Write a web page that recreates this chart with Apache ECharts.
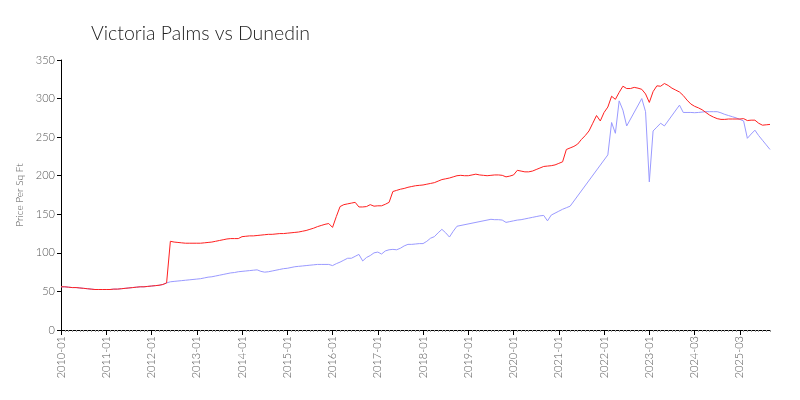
<!DOCTYPE html>
<html>
<head>
<meta charset="utf-8">
<script src="https://cdn.jsdelivr.net/npm/echarts@6/dist/echarts.min.js"></script>
<style>html,body{margin:0;padding:0;background:#fff}#c{width:800px;height:400px}</style>
</head>
<body>
<div id="c"></div>
<script>
// Month categories 2010-01 .. 2025-11 (two months absent in 2023 in the source data)
const skippedMonths = ["2023-06", "2023-07"];
const months = [];
for (let y = 2010; y <= 2025; y++) {
  for (let m = 1; m <= 12; m++) {
    const s = y + "-" + (m < 10 ? "0" + m : m);
    if (y === 2025 && m > 11) continue;
    if (skippedMonths.indexOf(s) >= 0) continue;
    months.push(s);
  }
}

const victoriaPalms = [
  56, 56, 55.5, 55, 55, 54.5, 54, 53.5, 53, 52.5, 52.5, 52.5,
  52.5, 52.5, 53, 53, 53.5, 54, 54.5, 55, 55.5, 56, 56, 56.5,
  57, 57.5, 58, 59, 61, 115, 114, 113.5, 113, 112.5, 112.5, 112.5,
  112.5, 112.5, 113, 113.5, 114, 115, 116, 117, 118, 118.5, 118.5, 118.5,
  121, 121.5, 122, 122, 122.5, 123, 123.5, 124, 124, 124.5, 125, 125,
  125.5, 126, 126.5, 127, 128, 129, 130.5, 132, 134, 135.5, 137, 138,
  133, 147, 160, 162.5, 163.5, 164.5, 165.5, 159.5, 159.5, 160, 162.5, 160.5,
  161, 161, 163, 165.5, 179.5, 181, 182.5, 183.5, 185, 186, 187, 187.5,
  188, 189, 190, 191, 193, 195, 196, 197, 198.5, 200, 200.5, 200,
  200, 201, 202, 201, 200.5, 200, 200.5, 201, 201, 200.5, 198.5, 199.5,
  201, 207, 206, 205, 205, 206, 208, 210, 212, 212.5, 213, 214,
  216, 218, 234, 236, 238, 241, 247, 252, 258, 268, 278, 271,
  282, 289, 303, 299, 308, 316, 313, 313, 314.5, 313.5, 312, 306,
  295, 309, 316.5, 316, 319.5, 317, 313.5, 311, 308.5, 304, 298, 293,
  290, 288, 285.5, 282, 278.5, 276, 274, 273, 273, 273.5, 273.5, 273.5,
  273.5, 274, 271.5, 272, 272, 268, 265.5, 266, 266.5
];

const dunedin = [
  56, 56, 55.5, 55, 55, 54.5, 54, 53.5, 53, 52.5, 52.5, 52.5,
  52.5, 52.5, 53, 53, 53.5, 54, 54.5, 55, 55.5, 56, 56, 56.5,
  57, 57.5, 58, 59, 61, 62.5, 63, 63.5, 64, 64.5, 65, 65.5,
  66, 66.5, 67.5, 68.5, 69, 70, 71, 72, 73, 74, 74.5, 75.5,
  76, 76.5, 77, 77.5, 78, 76, 75, 75.5, 76.5, 77.5, 78.5, 79.5,
  80, 81, 82, 82.5, 83, 83.5, 84, 84.5, 85, 85, 85, 85,
  83.5, 86, 88, 90.5, 93, 93, 95.5, 98, 89.5, 94, 96.5, 100,
  101, 98.5, 102.5, 104, 104.5, 104, 106, 109, 111, 111, 111.5, 112,
  112, 115, 119, 121, 126, 130.5, 126, 120.5, 128, 134.5, null, null,
  null, null, null, null, null, null, 143.5, 143, 143, 142.5, 139.5, 140.5,
  141.5, 142.5, 143, 144, 145, 146, 147, 148, 148.5, 141.5, 149, 151.5,
  154, 156.5, 158.5, 160.5, null, null, null, null, null, null, null, null,
  null, 227, 269, 255, 297, 285, 264.5, null, null, null, 300, 283,
  192, 258, 263, 268, 264.5, null, null, null, 291.5, 282, 282, 282,
  281.7, 282, 282.5, 283, 283, 283, 283, 281.5, 279.5, 278, 276.5, 275,
  273, 271, 248.5, 254, 259, 252, 246, 240, 234
];

const yTicks = { min: 0, max: 350, interval: 50 };

const fontFam = "Lato, 'Open Sans', sans-serif";
const chart = echarts.init(document.getElementById('c'), null, { renderer: 'canvas' });
chart.setOption({
  backgroundColor: '#ffffff',
  animation: false,
  title: {
    text: 'Victoria Palms vs Dunedin',
    left: 86, top: 19,
    textStyle: { fontFamily: fontFam, fontWeight: 300, fontSize: 19.5, color: '#222' }
  },
  grid: { left: 61, right: 30, top: 60, bottom: 70, containLabel: false },
  xAxis: [{
    type: 'category',
    data: months,
    boundaryGap: false,
    axisLine: { lineStyle: { color: '#000', width: 1 } },
    axisTick: { interval: 0, length: 2, lineStyle: { color: '#999' } },
    axisLabel: {
      interval: 11, rotate: 90, fontSize: 11, color: '#555',
      fontFamily: fontFam, fontWeight: 300, margin: 6
    },
    splitLine: { show: false }
  }, {
    type: 'category',
    data: months,
    boundaryGap: false,
    position: 'bottom',
    axisLine: { show: false },
    axisTick: { interval: 11, length: 5, lineStyle: { color: '#000' } },
    axisLabel: { show: false },
    splitLine: { show: false }
  }],
  yAxis: {
    type: 'value',
    min: yTicks.min, max: yTicks.max, interval: yTicks.interval,
    name: 'Price Per Sq Ft',
    nameLocation: 'middle',
    nameGap: 28,
    nameTextStyle: { fontSize: 10, color: '#555', fontFamily: fontFam, fontWeight: 300 },
    axisLine: { show: true, lineStyle: { color: '#000', width: 1 } },
    axisTick: { show: true, length: 4, lineStyle: { color: '#000' } },
    axisLabel: { fontSize: 11, color: '#555', fontFamily: fontFam, fontWeight: 300, margin: 6 },
    splitLine: { show: false }
  },
  series: [{
    name: 'Dunedin',
    type: 'line',
    data: dunedin,
    showSymbol: false,
    connectNulls: true,
    lineStyle: { color: '#9a9aff', width: 1 },
    itemStyle: { color: '#9a9aff' },
    z: 2
  }, {
    name: 'Victoria Palms',
    type: 'line',
    data: victoriaPalms,
    showSymbol: false,
    lineStyle: { color: '#ff2020', width: 1 },
    itemStyle: { color: '#ff2020' },
    z: 3
  }]
});
</script>
</body>
</html>
